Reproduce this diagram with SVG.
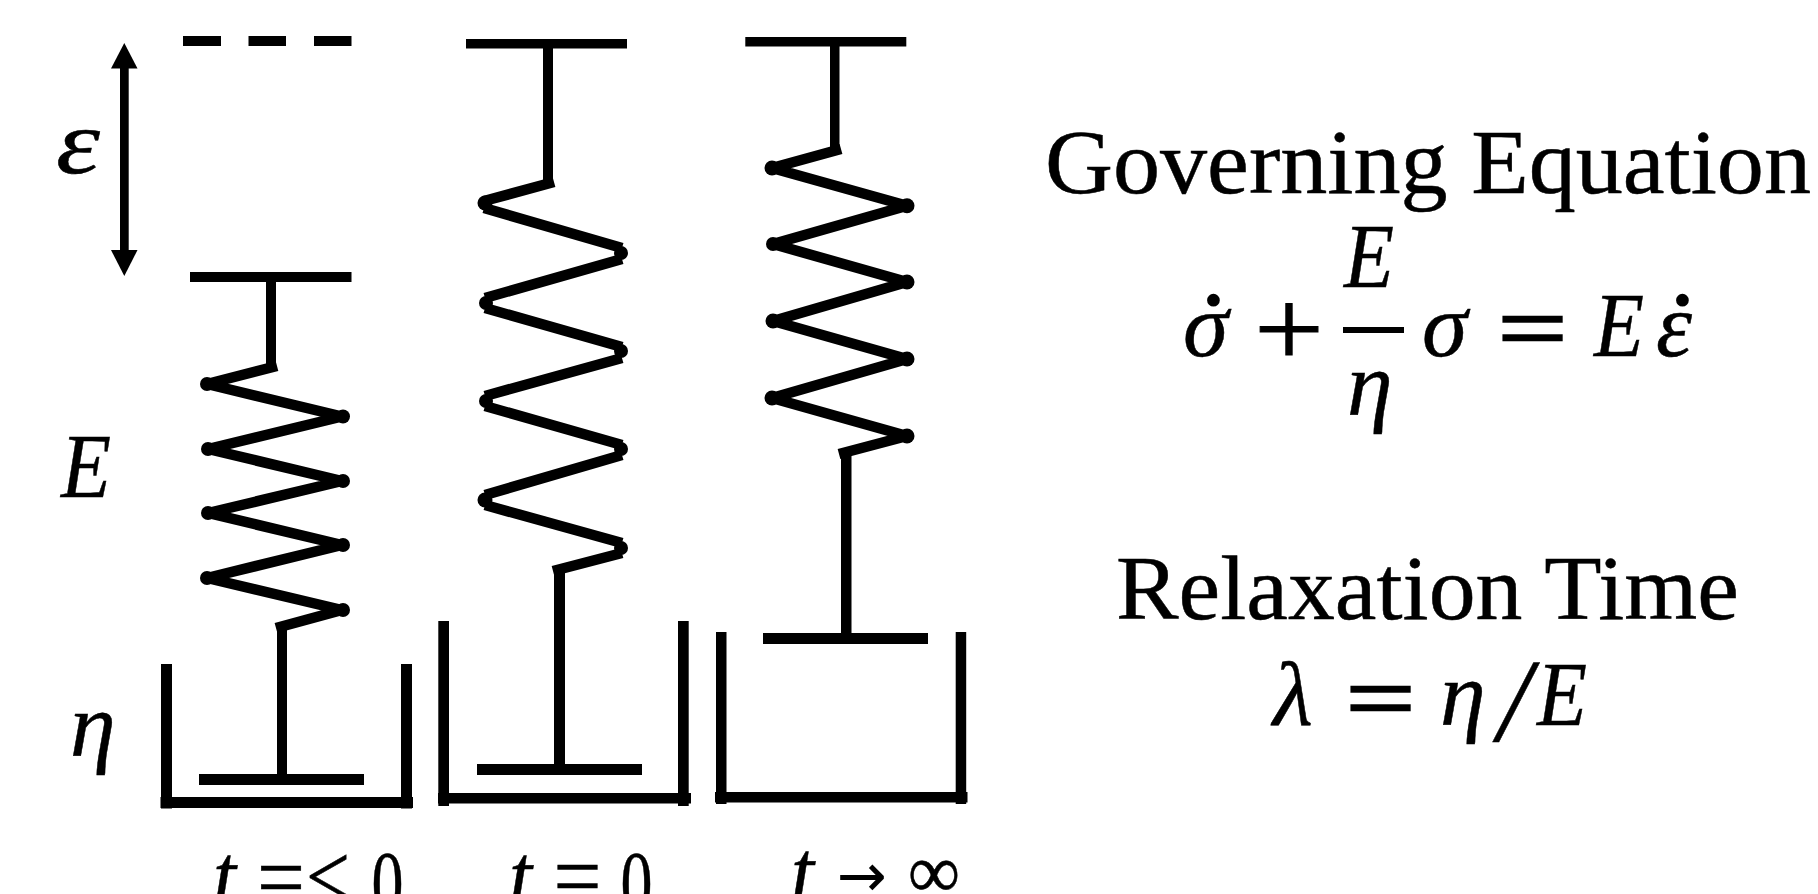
<svg xmlns="http://www.w3.org/2000/svg" width="1818" height="894" viewBox="0 0 1818 894">
<style>
text{font-family:"Liberation Serif","DejaVu Serif",serif;font-size:92px;fill:#000;stroke:#000;stroke-width:.5}
.m{font-style:italic}
.op{stroke-width:2.500}
.plus{stroke-width:1}
.dot{stroke-width:3}
.th{stroke-width:0}
.bar{fill:#000}
.coil{fill:none;stroke:#000;stroke-width:10.500;stroke-linejoin:bevel}
</style>
<rect width="1818" height="894" fill="#fff"/>
<g id="connectors">
<g id="strain-arrow"><rect class="bar" x="120" y="66" width="8.7" height="186"/><polygon points="124.300,43 137.500,68.500 111,68.500"/><polygon points="124.300,276 137.500,250 111,250"/></g>
<g id="spring-1"><rect class="bar" x="266" y="280" width="10" height="86"/><polyline class="coil" points="277,366 207,384 342,416.500 208,449 342,481 208,513 342,545 207,578 342,610 276,628"/><rect class="bar" x="277" y="625" width="10" height="152"/>
<circle cx="207" cy="384" r="7"/><circle cx="343" cy="416.500" r="7"/><circle cx="208" cy="449" r="7"/><circle cx="343" cy="481" r="7"/><circle cx="208" cy="513" r="7"/><circle cx="343" cy="545" r="7"/><circle cx="207" cy="578" r="7"/><circle cx="343" cy="610" r="7"/></g>
<g id="spring-2"><rect class="bar" x="543" y="46" width="10" height="136"/><path class="coil" d="M554,182L484,201M484,208L622,248M622,259L485,298M485,308L622,347M622,358L485,396M485,406L622,445M622,455L485,495M485,505L622,543M622,553L553,571"/><rect class="bar" x="554" y="568" width="11" height="198"/>
<circle cx="485" cy="203" r="7.500"/><circle cx="621" cy="253" r="7"/><circle cx="486" cy="303" r="7"/><circle cx="621" cy="351" r="7"/><circle cx="486" cy="401" r="7"/><circle cx="621" cy="449" r="7"/><circle cx="485" cy="500" r="7.500"/><circle cx="621" cy="548" r="7"/></g>
<g id="spring-3"><rect class="bar" x="830" y="45" width="9.500" height="105"/><polyline class="coil" points="841,149 772,168 907,205.700 773,244 907,282 773,321 907,359 772,398 907,436 839,454"/><rect class="bar" x="841" y="451" width="10.500" height="184"/>
<circle cx="772" cy="168" r="7.500"/><circle cx="907" cy="205.700" r="7.500"/><circle cx="773" cy="244" r="7"/><circle cx="907" cy="282" r="7.500"/><circle cx="773" cy="321" r="7.500"/><circle cx="907" cy="359" r="7.500"/><circle cx="772" cy="398" r="7.500"/><circle cx="907" cy="436" r="7.500"/></g>
</g>
<g id="reference-line"><rect class="bar" x="183" y="36" width="38" height="10"/><rect class="bar" x="248.500" y="36" width="37.500" height="10"/><rect class="bar" x="314" y="36" width="37.500" height="10"/></g>
<g id="plate-1"><rect class="bar" x="190" y="272" width="161.500" height="10"/></g>
<g id="plate-2"><rect class="bar" x="466" y="39" width="161" height="9.500"/></g>
<g id="plate-3"><rect class="bar" x="745.300" y="37" width="161" height="9.500"/></g>
<g id="dashpot-1"><rect class="bar" x="199" y="774" width="165" height="11"/><rect class="bar" x="161" y="664" width="11" height="144.500"/><rect class="bar" x="401" y="664" width="11" height="144.500"/><rect class="bar" x="160.500" y="797" width="252.500" height="11"/></g>
<g id="dashpot-2"><rect class="bar" x="477" y="764" width="165" height="11"/><rect class="bar" x="438.300" y="621" width="10.700" height="185"/><rect class="bar" x="678" y="621" width="10.700" height="185"/><rect class="bar" x="438" y="793" width="253" height="10.500"/></g>
<g id="dashpot-3"><rect class="bar" x="763" y="633" width="165" height="11"/><rect class="bar" x="716" y="632" width="10.500" height="172"/><rect class="bar" x="955.700" y="632" width="10.500" height="172"/><rect class="bar" x="715" y="792" width="252.500" height="10.500"/></g>
<g id="labels">
<text class="m" x="56" y="173" textLength="44" lengthAdjust="spacingAndGlyphs">ε</text>
<text class="m" x="61" y="497" textLength="50" lengthAdjust="spacingAndGlyphs">E</text>
<text class="m" x="70" y="756">η</text>
</g>
<g id="time-labels">
<text class="m" x="213" y="907" textLength="23" lengthAdjust="spacingAndGlyphs">t</text><text x="257" y="908" textLength="48" lengthAdjust="spacingAndGlyphs">=</text><text x="306" y="907" textLength="44" lengthAdjust="spacingAndGlyphs">&lt;</text><text x="371.500" y="914" textLength="32" lengthAdjust="spacingAndGlyphs">0</text>
<text class="m" x="509" y="907" textLength="23" lengthAdjust="spacingAndGlyphs">t</text><text x="553.500" y="907" textLength="48" lengthAdjust="spacingAndGlyphs">=</text><text x="620.500" y="914" textLength="32" lengthAdjust="spacingAndGlyphs">0</text>
<text class="m" x="791" y="903" textLength="23" lengthAdjust="spacingAndGlyphs">t</text><text style="font-family:'DejaVu Sans',sans-serif;font-size:60px" class="th" x="837" y="896" textLength="50" lengthAdjust="spacingAndGlyphs">→</text><text style="font-size:76px" x="908" y="897" textLength="52" lengthAdjust="spacingAndGlyphs">∞</text>
</g>
<g id="governing-equation">
<text x="1045" y="193" textLength="766" lengthAdjust="spacingAndGlyphs">Governing Equation</text>
<text class="m" x="1183" y="356">σ</text>
<text class="dot" x="1198" y="356">˙</text>
<text class="plus" style="font-size:110px" x="1254" y="366" textLength="70" lengthAdjust="spacingAndGlyphs">+</text>
<text class="m" x="1344" y="287" textLength="50" lengthAdjust="spacingAndGlyphs">E</text>
<rect class="bar" x="1343" y="327" width="61" height="6"/>
<text class="m" x="1347" y="415">η</text>
<text class="m" x="1422" y="356">σ</text>
<text class="op" x="1498" y="359" textLength="69" lengthAdjust="spacingAndGlyphs">=</text>
<text class="m" x="1594" y="356" textLength="50" lengthAdjust="spacingAndGlyphs">E</text>
<text class="m" x="1656" y="356" textLength="36" lengthAdjust="spacingAndGlyphs">ε</text>
<text class="dot" x="1667" y="356">˙</text>
</g>
<g id="relaxation-time">
<text x="1116" y="619" textLength="623" lengthAdjust="spacingAndGlyphs">Relaxation Time</text>
<text class="m" x="1273" y="725">λ</text>
<text class="op" x="1346" y="729" textLength="69" lengthAdjust="spacingAndGlyphs">=</text>
<text class="m" x="1440" y="725">η</text>
<text class="m" style="font-size:118px" x="1498" y="741">/</text>
<text class="m" x="1537" y="725" textLength="50" lengthAdjust="spacingAndGlyphs">E</text>
</g>
</svg>
